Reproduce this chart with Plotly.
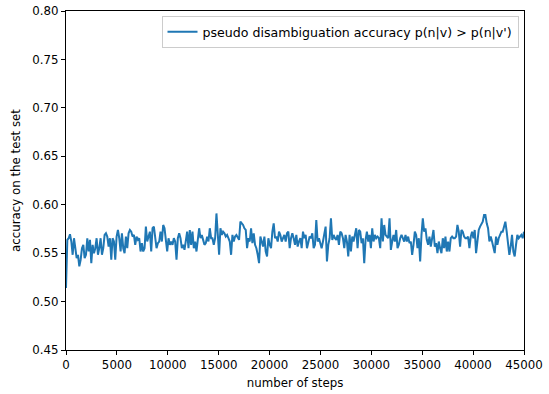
import numpy as np
import plotly.graph_objects as go

accuracy = [
    # segment 1 (0 - ~11000)
    0.514, 0.5637, 0.5654, 0.5695, 0.5620, 0.5483, 0.5654, 0.5551, 0.5449, 0.5483,
    0.5363, 0.5432, 0.5551, 0.5586, 0.5449, 0.5483, 0.5654, 0.5517, 0.5637, 0.5397,
    0.5586, 0.5500, 0.5551, 0.5654, 0.5483, 0.5551, 0.5654, 0.5483, 0.5551, 0.5688,
    0.5705, 0.5671, 0.5568, 0.5654, 0.5432, 0.5654, 0.5620, 0.5432, 0.5671, 0.5739,
    0.5654, 0.5517, 0.5705, 0.5551, 0.5500, 0.5671, 0.5551, 0.5705, 0.5739, 0.5722,
    0.5671, 0.5688, 0.5586, 0.5671, 0.5637, 0.5654, 0.5517, 0.5603, 0.5517, 0.5551,
    0.5774, 0.5620, 0.5688, 0.5722, 0.5517, 0.5757, 0.5774, 0.5654, 0.5551, 0.5603,
    0.5620, 0.5722, 0.5620, 0.5791, 0.5757, 0.5637, 0.5517, 0.5654, 0.5586, 0.5620,
    0.5586, 0.5654, 0.5620, 0.5432, 0.5654,
    # segment 2 (~11000 - ~22500)
    0.5705, 0.5654, 0.5551, 0.5586, 0.5534, 0.5637, 0.5722, 0.5551, 0.5739, 0.5586,
    0.5722, 0.5551, 0.5620, 0.5517, 0.5654, 0.5757, 0.5654, 0.5688, 0.5637, 0.5586,
    0.5603, 0.5671, 0.5620, 0.5757, 0.5654, 0.5654, 0.5586, 0.5654, 0.5910, 0.5654,
    0.5483, 0.5757, 0.5688, 0.5722, 0.5705, 0.5671, 0.5688, 0.5654, 0.5620, 0.5483,
    0.5688, 0.5620, 0.5671, 0.5688, 0.5654, 0.5637, 0.5825, 0.5808, 0.5791, 0.5757,
    0.5739, 0.5551, 0.5654, 0.5620, 0.5757, 0.5603, 0.5705, 0.5586, 0.5551, 0.5483,
    0.5397, 0.5671, 0.5603, 0.5568, 0.5671, 0.5517, 0.5466, 0.5654, 0.5586, 0.5551,
    0.5722, 0.5808, 0.5654, 0.5671, 0.5620, 0.5722, 0.5688, 0.5620, 0.5654, 0.5688,
    0.5620, 0.5705, 0.5722, 0.5551, 0.5654, 0.5705,
    # segment 3 (~22500 - ~33700)
    0.5654, 0.5586, 0.5688, 0.5568, 0.5620, 0.5654, 0.5551, 0.5722, 0.5654, 0.5688,
    0.5551, 0.5620, 0.5671, 0.5654, 0.5705, 0.5551, 0.5586, 0.5842, 0.5620, 0.5654,
    0.5586, 0.5551, 0.5620, 0.5688, 0.5774, 0.5415, 0.5586, 0.5654, 0.5859, 0.5637,
    0.5688, 0.5654, 0.5637, 0.5688, 0.5586, 0.5722, 0.5705, 0.5654, 0.5551, 0.5688,
    0.5620, 0.5466, 0.5688, 0.5517, 0.5671, 0.5620, 0.5688, 0.5757, 0.5551, 0.5739,
    0.5722, 0.5603, 0.5654, 0.5397, 0.5637, 0.5722, 0.5620, 0.5688, 0.5551, 0.5757,
    0.5620, 0.5688, 0.5654, 0.5671, 0.5654, 0.5551, 0.5859, 0.5620, 0.5791, 0.5688,
    0.5671, 0.5654, 0.5859, 0.5534, 0.5620, 0.5688, 0.5620, 0.5739, 0.5551, 0.5586,
    0.5654, 0.5688, 0.5654, 0.5620, 0.5688, 0.5620,
    # segment 4 (~33700 - 45000)
    0.5671, 0.5603, 0.5620, 0.5483, 0.5586, 0.5722, 0.5688, 0.5551, 0.5654, 0.5415,
    0.5688, 0.5859, 0.5722, 0.5757, 0.5637, 0.5586, 0.5671, 0.5568, 0.5654, 0.5739,
    0.5568, 0.5603, 0.5500, 0.5620, 0.5551, 0.5500, 0.5654, 0.5551, 0.5671, 0.5517,
    0.5620, 0.5517, 0.5654, 0.5671, 0.5654, 0.5654, 0.5671, 0.5791, 0.5722, 0.5568,
    0.5739, 0.5722, 0.5671, 0.5654, 0.5654, 0.5671, 0.5551, 0.5671, 0.5722, 0.5654,
    0.5739, 0.5500, 0.5620, 0.5739, 0.5774, 0.5808, 0.5825, 0.5893, 0.5893, 0.5808,
    0.5757, 0.5620, 0.5671, 0.5620, 0.5551, 0.5500, 0.5671, 0.5586, 0.5654, 0.5688,
    0.5722, 0.5722, 0.5791, 0.5825, 0.5722, 0.5620, 0.5483, 0.5568, 0.5688, 0.5517,
    0.5466, 0.5586, 0.5688, 0.5654, 0.5671, 0.5688, 0.5654, 0.5722,
]

steps = np.linspace(0, 45000, len(accuracy))

x_ticks = [0, 5000, 10000, 15000, 20000, 25000, 30000, 35000, 40000, 45000]
y_ticks = [0.45, 0.50, 0.55, 0.60, 0.65, 0.70, 0.75, 0.80]

series_name = "pseudo disambiguation accuracy p(n|v) > p(n|v')"

fig = go.Figure()
fig.add_trace(go.Scatter(
    x=steps, y=accuracy, mode="lines", name=series_name,
    line=dict(color="#1f77b4", width=2),
))

font_family = "DejaVu Sans"
fs = 11.8
axis_common = dict(
    showline=True, linecolor="black", linewidth=1, mirror=True,
    ticks="outside", ticklen=4, tickwidth=1, tickcolor="black",
    showgrid=False, zeroline=False, automargin=False,
    tickfont=dict(family=font_family, size=fs, color="black"),
)

fig.update_layout(
    width=549, height=394,
    margin=dict(l=66, r=25, t=11, b=44, autoexpand=False),
    paper_bgcolor="white", plot_bgcolor="white",
    font=dict(family=font_family, size=fs, color="black"),
    showlegend=True,
    legend=dict(
        x=0.988, y=0.985, xanchor="right", yanchor="top",
        bgcolor="rgba(255,255,255,0.8)", bordercolor="#cccccc", borderwidth=1,
        font=dict(family=font_family, size=12.6, color="black"),
        itemwidth=30,
    ),
    xaxis=dict(
        range=[0, 45000], tickvals=x_ticks, ticktext=[str(v) for v in x_ticks],
        title=dict(text="number of steps", font=dict(family=font_family, size=fs), standoff=7),
        **axis_common,
    ),
    yaxis=dict(
        range=[0.45, 0.80], tickvals=y_ticks, ticktext=[f"{v:.2f}" for v in y_ticks],
        title=dict(text="accuracy on the test set", font=dict(family=font_family, size=fs), standoff=9),
        **axis_common,
    ),
)

fig.write_html("out.html")
